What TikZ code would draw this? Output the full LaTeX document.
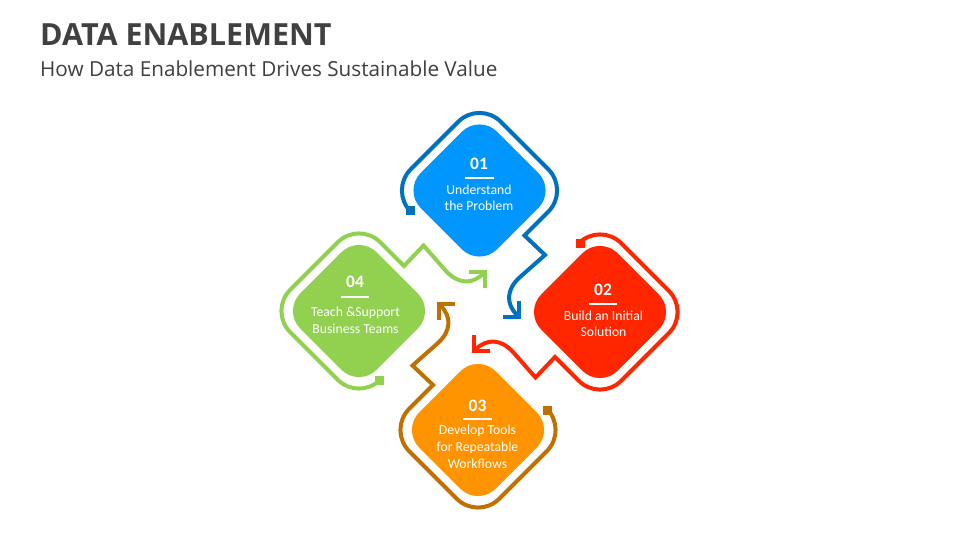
\documentclass[tikz,border=0pt]{standalone}
\usepackage{fontspec}
\setmainfont{Carlito}
\newfontfamily\headfont{Open Sans}
\usetikzlibrary{arrows.meta}
\definecolor{bluefill}{RGB}{0,150,255}
\definecolor{blueline}{RGB}{0,112,192}
\definecolor{redc}{RGB}{255,38,0}
\definecolor{orangefill}{RGB}{255,147,0}
\definecolor{orangeline}{RGB}{192,112,0}
\definecolor{greenc}{RGB}{146,208,80}
\definecolor{txtgray}{RGB}{64,64,64}
\tikzset{
  connline/.style={line width=4pt, -{Straight Barb[length=11pt,width=22pt]}},
  numtext/.style={text=white, font=\bfseries\fontsize{17.5}{20}\selectfont, inner sep=0pt, anchor=base},
  bodytext/.style={text=white, font=\fontsize{13.7}{16.6}\selectfont, inner sep=0pt, anchor=base, align=center},
  uline/.style={white, line width=1.8pt},
}
\newcommand\Conn[4]{%
  \begin{scope}[shift={(#1,#2)},rotate=#3]
    \draw[connline,#4] (-68.79,21.21) arc[start angle=135,end angle=225,radius=30]
      -- (-21.21,-68.79) arc[start angle=225,end angle=315,radius=30]
      -- (68.79,-21.21) arc[start angle=315,end angle=405,radius=30]
      -- (45,45) -- (65.5,64.5) -- (40,87) .. controls (27,99) and (26,113) .. (41,128);
    \fill[#4] (-73.5,15.5) rectangle (-64.5,24.5);
  \end{scope}}
\newcommand\Dia[3]{%
  \begin{scope}[shift={(#1,#2)}]
    \fill[#3, rounded corners=25pt] (0,-76.4) -- (76.4,0) -- (0,76.4) -- (-76.4,0) -- cycle;
  \end{scope}}
\begin{document}
\begin{tikzpicture}[x=1pt,y=-1pt]
\useasboundingbox (0,0) rectangle (960,540);
\fill[white] (0,0) rectangle (960,540);
% title
\node[anchor=base west, inner sep=0pt, text=txtgray, font=\headfont\bfseries\fontsize{30.5}{36}\selectfont] (title) at (40,46) {DATA ENABLEMENT};
\node[anchor=base west, inner sep=0pt, text=txtgray, font=\headfont\fontsize{20.7}{24}\selectfont] (sub) at (40,77) {How Data Enablement Drives Sustainable Value};
% diamonds
\Dia{479.5}{190.5}{bluefill}
\Dia{600}{312}{redc}
\Dia{478}{430}{orangefill}
\Dia{359}{311}{greenc}
% connectors
\Conn{479.5}{190.5}{0}{blueline}
\Conn{600}{312}{-90}{redc}
\Conn{478}{430}{-180}{orangeline}
\Conn{359}{311}{90}{greenc}
% texts
\node[numtext] (n1) at (479,169.5) {01};
\draw[uline] (464.5,177.7) -- (493.5,177.7);
\node[bodytext] (t1) at (479,210.7) {Understand\\the Problem};
\node[numtext] (n2) at (603,295) {02};
\draw[uline] (589,304.3) -- (617,304.3);
\node[bodytext] (t2) at (603.5,336.7) {Build an Initial\\Solution};
\node[numtext] (n3) at (477.5,411.5) {03};
\draw[uline] (463,419.3) -- (492,419.3);
\node[bodytext] (t3) at (477.5,468) {Develop Tools\\for Repeatable\\Workflows};
\node[numtext] (n4) at (355,287.5) {04};
\draw[uline] (340.7,296.7) -- (369.3,296.7);
\node[bodytext] (t4) at (355.5,333.3) {Teach \&Support\\Business Teams};
\end{tikzpicture}
\end{document}
